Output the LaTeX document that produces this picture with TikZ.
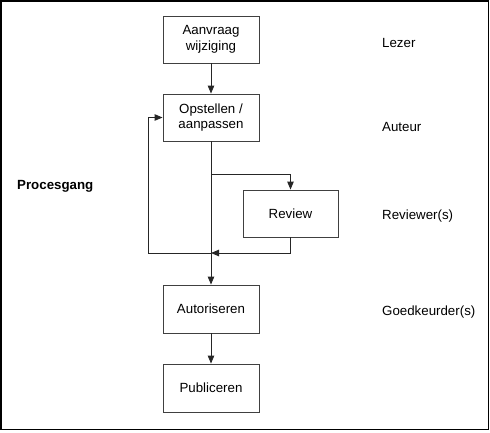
\documentclass[tikz,border=0pt]{standalone}
\usepackage{fontspec}
\setmainfont{Liberation Sans}
\usetikzlibrary{arrows.meta}
\begin{document}
\begin{tikzpicture}[x=1pt,y=-1pt,
  procbox/.style={draw=black!75, line width=0.9pt, minimum width=96pt, minimum height=47pt, inner sep=0pt, align=center, font=\fontsize{13.3}{15.5}\selectfont},
  lbl/.style={anchor=west, inner sep=0pt, font=\fontsize{13.3}{15.5}\selectfont},
  conn/.style={draw=black!85, line width=0.9pt, -{Triangle[length=8pt,width=6.5pt]}},
  plain/.style={draw=black!85, line width=0.9pt}]
\useasboundingbox (0,0) rectangle (490,432);
\draw[line width=1.6pt] (0.8,0.8) rectangle (488.4,429.6);
\node[procbox] (a) at (211,39.5) {Aanvraag\\wijziging};
\node[procbox] (o) at (211,117.5) {Opstellen /\\aanpassen};
\node[procbox, minimum width=95pt] (r) at (290.5,213.5) {Review};
\node[procbox, minimum height=48pt] (au) at (211,309) {Autoriseren};
\node[procbox, minimum height=48pt] (p) at (211,388) {Publiceren};
\node[lbl] (l1) at (382,43) {Lezer};
\node[lbl] (l2) at (382,127) {Auteur};
\node[lbl] (l3) at (382,216) {Reviewer(s)};
\node[lbl] (l4) at (382,312) {Goedkeurder(s)};
\node[lbl, font=\fontsize{13.3}{15.5}\selectfont\bfseries] (pg) at (17,186) {Procesgang};
\coordinate (b1) at (211,174);
\coordinate (j) at (211,253);
\coordinate (fl) at (148,253);
\draw[conn] (a) -- (o);
\draw[conn] (o) -- (au);
\draw[conn] (b1) -| (r.north);
\draw[conn] (r.south) |- (j);
\draw[conn] (j) -- (fl) |- (o.west);
\draw[conn] (au) -- (p);
\end{tikzpicture}
\end{document}
